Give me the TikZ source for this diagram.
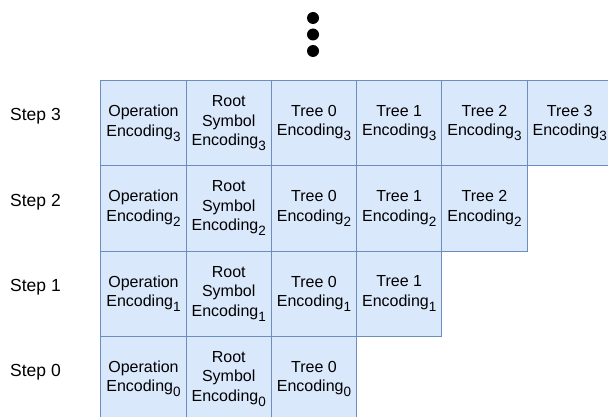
\documentclass[tikz,border=0pt]{standalone}
\usepackage{fontspec}
\setmainfont{Liberation Sans}
\begin{document}
\begin{tikzpicture}[x=1pt,y=-1pt,
  cell/.style={draw=cellborder, fill=cellfill, line width=1.1pt, anchor=north west,
    minimum width=85.25pt, minimum height=85.25pt, inner sep=0pt, align=center,
    font=\fontsize{16}{19.5}\selectfont},
  steplabel/.style={font=\fontsize{17.5}{20}\selectfont, inner sep=0pt},
  dotnode/.style={circle, fill=black, minimum size=12pt, inner sep=0pt}]
\definecolor{cellfill}{HTML}{DAE8FC}
\definecolor{cellborder}{HTML}{6C8EBF}
\newcommand{\encsub}[1]{Encoding\raisebox{-5pt}{\fontsize{13.5}{13.5}\selectfont #1}}
\useasboundingbox (0,0) rectangle (608,417);
\clip (0,0) rectangle (608,417);
\foreach \r in {0,...,3}{
  \pgfmathsetmacro{\ytop}{80+(3-\r)*85.25}
  \node[steplabel] (step\r) at (35.5,\ytop+36.5) {Step \r};
  \node[cell] (op\r) at (100.3,\ytop) {Operation\\\encsub{\r}};
  \node[cell] (root\r) at (185.55,\ytop) {Root\\Symbol\\\encsub{\r}};
  \foreach \t in {0,...,\r}{
    \pgfmathsetmacro{\xl}{100.3+(\t+2)*85.25}
    \node[cell] (tree\t r\r) at (\xl,\ytop) {Tree \t\\\encsub{\r}};
  }
}
\node[dotnode] (dotA) at (313,18) {};
\node[dotnode] (dotB) at (313,34.5) {};
\node[dotnode] (dotC) at (313,51) {};
\end{tikzpicture}
\end{document}
